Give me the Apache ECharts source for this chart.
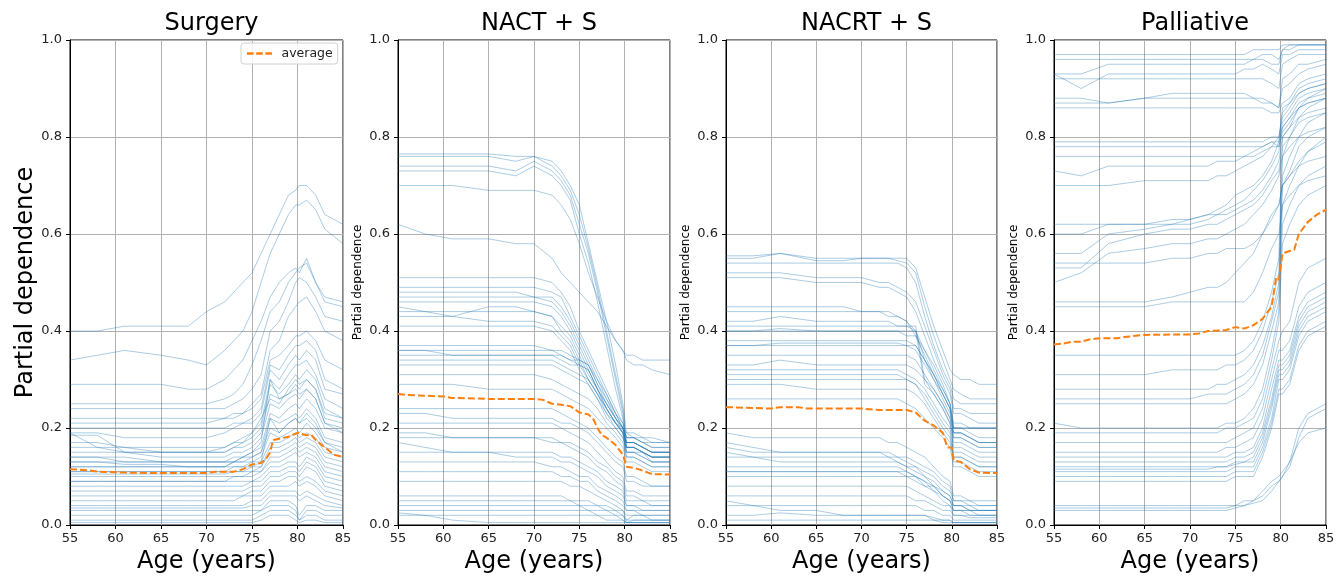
<!DOCTYPE html>
<html><head><meta charset="utf-8">
<script src="https://cdn.jsdelivr.net/npm/echarts@6/dist/echarts.min.js"></script>
<style>html,body{margin:0;padding:0;background:#fff}#c{width:1340px;height:579px}</style>
</head><body><div id="c"></div>
<script>
// Shared age grid for individual (ICE) curves
const AGES = [55,58,61,65,68,70,72,73,74,75,76,77,78,79,79.8,80.2,81,82,83,85];

const SURGERY = [
[.40,.40,.41,.41,.41,.44,.46,.48,.50,.52,.56,.60,.64,.68,.69,.70,.70,.68,.64,.62],
[.34,.35,.36,.35,.34,.33,.36,.38,.40,.44,.50,.56,.60,.64,.66,.66,.67,.65,.61,.58],
[.29,.29,.29,.29,.28,.28,.30,.32,.34,.38,.42,.47,.50,.52,.53,.52,.55,.50,.47,.46],
[.25,.25,.25,.25,.25,.25,.26,.27,.29,.33,.38,.44,.46,.50,.52,.53,.54,.50,.46,.45],
[.24,.24,.24,.24,.24,.24,.24,.25,.26,.28,.31,.40,.42,.46,.50,.51,.50,.47,.43,.42],
[.22,.22,.22,.22,.22,.22,.22,.23,.23,.25,.27,.36,.38,.43,.45,.46,.47,.44,.40,.38],
[.21,.21,.21,.21,.21,.21,.22,.22,.23,.24,.26,.34,.35,.37,.39,.39,.40,.38,.34,.32],
[.20,.20,.20,.20,.20,.20,.20,.21,.21,.22,.24,.33,.32,.35,.37,.37,.38,.36,.30,.28],
[.19,.19,.18,.18,.18,.18,.19,.20,.21,.21,.23,.32,.30,.33,.35,.34,.36,.34,.28,.27],
[.19,.16,.16,.15,.15,.15,.16,.17,.18,.19,.21,.30,.28,.31,.33,.33,.34,.31,.26,.24],
[.185,.185,.15,.15,.15,.15,.15,.16,.17,.19,.22,.26,.25,.28,.30,.29,.30,.28,.23,.22],
[.17,.17,.16,.16,.16,.16,.16,.17,.17,.18,.20,.29,.27,.29,.31,.30,.32,.30,.24,.22],
[.16,.16,.15,.15,.15,.15,.15,.16,.16,.17,.19,.27,.26,.27,.29,.28,.30,.28,.22,.21],
[.15,.15,.15,.14,.14,.14,.14,.15,.15,.16,.18,.25,.24,.26,.27,.26,.28,.26,.21,.20],
[.14,.14,.14,.13,.13,.13,.13,.14,.14,.15,.16,.23,.22,.24,.25,.24,.26,.24,.20,.19],
[.14,.14,.13,.13,.13,.13,.13,.13,.14,.14,.15,.22,.21,.22,.23,.22,.24,.22,.18,.17],
[.13,.13,.125,.125,.12,.12,.12,.13,.14,.15,.17,.30,.26,.27,.28,.27,.28,.26,.21,.19],
[.13,.13,.13,.13,.13,.13,.13,.13,.13,.14,.15,.20,.19,.21,.22,.21,.22,.20,.17,.16],
[.12,.12,.12,.12,.12,.12,.12,.13,.13,.13,.14,.19,.18,.19,.20,.19,.21,.19,.16,.15],
[.12,.12,.12,.12,.12,.12,.12,.12,.12,.13,.13,.17,.17,.18,.19,.18,.19,.18,.15,.14],
[.11,.11,.11,.11,.11,.11,.11,.12,.12,.12,.12,.16,.16,.17,.18,.17,.18,.17,.14,.13],
[.11,.11,.11,.11,.11,.11,.11,.11,.11,.11,.12,.15,.15,.16,.17,.16,.17,.16,.13,.12],
[.105,.105,.105,.105,.105,.105,.105,.11,.11,.12,.13,.22,.19,.21,.22,.21,.23,.21,.17,.15],
[.10,.10,.10,.10,.10,.10,.10,.10,.10,.11,.11,.14,.14,.15,.16,.15,.16,.15,.12,.11],
[.09,.09,.09,.09,.09,.09,.09,.10,.10,.10,.11,.13,.13,.14,.15,.14,.15,.14,.11,.10],
[.09,.09,.09,.09,.09,.09,.09,.09,.09,.09,.10,.12,.12,.13,.13,.12,.14,.13,.10,.09],
[.08,.08,.08,.08,.08,.08,.08,.08,.08,.09,.09,.11,.11,.12,.12,.11,.13,.12,.09,.08],
[.07,.07,.07,.07,.07,.07,.07,.07,.07,.08,.08,.10,.10,.11,.11,.10,.12,.11,.08,.07],
[.06,.06,.06,.06,.06,.06,.06,.06,.06,.07,.07,.09,.09,.10,.10,.09,.10,.09,.07,.06],
[.05,.05,.05,.05,.05,.05,.05,.05,.06,.06,.06,.08,.08,.08,.09,.08,.09,.08,.06,.05],
[.04,.04,.04,.04,.04,.04,.04,.04,.04,.05,.05,.07,.07,.07,.07,.06,.07,.06,.05,.04],
[.035,.035,.035,.035,.035,.035,.035,.035,.035,.04,.04,.06,.06,.06,.06,.05,.06,.05,.04,.035],
[.03,.03,.03,.03,.03,.03,.03,.03,.03,.03,.03,.05,.05,.05,.04,.02,.04,.04,.03,.03],
[.02,.02,.02,.02,.02,.02,.02,.02,.02,.02,.03,.04,.04,.04,.03,.01,.03,.03,.02,.02],
[.01,.01,.01,.01,.01,.01,.01,.01,.01,.01,.02,.03,.03,.03,.02,.01,.02,.02,.01,.01],
[.005,.005,.005,.005,.005,.005,.005,.005,.005,.005,.01,.02,.02,.02,.01,.005,.01,.01,.005,.005]
];

const NACT = [
[.765,.765,.765,.765,.76,.76,.75,.73,.70,.66,.58,.50,.42,.33,.25,.19,.18,.18,.17,.17],
[.76,.76,.76,.76,.75,.76,.74,.72,.69,.64,.57,.49,.40,.31,.24,.17,.17,.16,.15,.15],
[.74,.74,.74,.74,.73,.75,.73,.71,.68,.62,.56,.48,.39,.30,.23,.16,.16,.15,.14,.14],
[.73,.73,.73,.73,.72,.74,.72,.70,.67,.60,.54,.46,.37,.28,.22,.15,.15,.15,.13,.13],
[.70,.70,.70,.69,.69,.69,.68,.66,.63,.58,.52,.47,.42,.38,.36,.34,.33,.33,.32,.31],
[.62,.60,.59,.59,.58,.58,.55,.52,.50,.48,.46,.44,.41,.38,.36,.35,.35,.34,.34,.34],
[.51,.51,.51,.51,.51,.51,.50,.48,.45,.40,.36,.32,.28,.24,.21,.18,.18,.17,.16,.16],
[.49,.49,.49,.49,.49,.49,.48,.47,.43,.39,.35,.31,.27,.23,.20,.17,.17,.16,.15,.15],
[.48,.48,.48,.48,.48,.47,.47,.45,.42,.38,.34,.30,.27,.23,.20,.16,.16,.15,.14,.14],
[.47,.47,.47,.47,.47,.47,.46,.44,.41,.37,.33,.29,.26,.22,.20,.18,.18,.17,.17,.17],
[.46,.46,.46,.46,.46,.46,.45,.43,.40,.36,.32,.28,.25,.22,.19,.15,.15,.14,.13,.13],
[.45,.44,.43,.45,.45,.44,.43,.41,.39,.35,.31,.28,.25,.22,.20,.19,.19,.18,.18,.17],
[.44,.44,.44,.44,.44,.44,.43,.40,.38,.34,.30,.27,.24,.21,.19,.14,.14,.13,.12,.12],
[.43,.43,.43,.42,.42,.42,.41,.39,.37,.33,.30,.27,.24,.21,.19,.17,.17,.16,.15,.15],
[.41,.41,.41,.41,.41,.41,.40,.38,.36,.32,.29,.26,.23,.21,.19,.16,.16,.15,.14,.14],
[.37,.37,.37,.37,.37,.37,.36,.36,.35,.34,.33,.30,.26,.23,.21,.18,.18,.17,.16,.16],
[.36,.36,.36,.36,.36,.36,.36,.35,.34,.34,.33,.29,.25,.22,.20,.17,.17,.16,.15,.15],
[.36,.36,.35,.35,.35,.35,.35,.35,.34,.33,.32,.28,.24,.21,.20,.16,.16,.15,.14,.14],
[.35,.35,.35,.35,.35,.35,.35,.34,.33,.33,.32,.28,.24,.21,.19,.17,.17,.16,.15,.15],
[.34,.34,.34,.34,.34,.34,.34,.33,.32,.31,.30,.27,.23,.20,.18,.15,.15,.14,.13,.13],
[.33,.33,.33,.33,.33,.33,.33,.32,.31,.30,.29,.26,.22,.20,.18,.16,.16,.15,.14,.14],
[.31,.31,.31,.31,.31,.31,.30,.29,.28,.27,.26,.24,.21,.19,.17,.14,.14,.13,.12,.12],
[.29,.29,.29,.28,.28,.28,.28,.27,.26,.25,.24,.22,.20,.18,.16,.13,.13,.12,.11,.11],
[.24,.24,.24,.24,.24,.24,.24,.23,.22,.21,.20,.18,.16,.14,.13,.10,.10,.09,.08,.08],
[.23,.23,.22,.22,.22,.22,.22,.21,.21,.20,.19,.17,.15,.13,.12,.09,.09,.08,.08,.08],
[.21,.21,.21,.21,.21,.21,.21,.20,.19,.18,.17,.15,.13,.11,.10,.07,.07,.06,.06,.06],
[.19,.19,.18,.18,.18,.18,.18,.17,.17,.16,.15,.13,.12,.10,.09,.06,.06,.05,.05,.05],
[.18,.18,.18,.18,.18,.18,.17,.17,.16,.15,.14,.12,.11,.09,.08,.05,.05,.05,.04,.04],
[.17,.16,.15,.15,.15,.15,.15,.14,.14,.13,.12,.11,.09,.08,.07,.04,.04,.04,.04,.04],
[.15,.15,.15,.15,.14,.14,.14,.13,.13,.12,.11,.10,.08,.07,.06,.04,.04,.03,.03,.03],
[.13,.13,.13,.13,.13,.13,.12,.12,.11,.10,.10,.08,.07,.06,.05,.03,.03,.03,.03,.03],
[.11,.11,.11,.11,.11,.11,.11,.10,.10,.09,.09,.07,.06,.05,.04,.03,.03,.02,.02,.02],
[.09,.09,.09,.09,.09,.09,.09,.09,.08,.08,.07,.06,.05,.04,.03,.02,.02,.02,.02,.02],
[.06,.06,.06,.06,.06,.06,.06,.06,.05,.05,.05,.04,.04,.03,.03,.01,.02,.02,.01,.01],
[.05,.05,.05,.05,.05,.05,.05,.05,.05,.04,.04,.04,.03,.03,.02,.01,.01,.01,.01,.01],
[.04,.04,.04,.04,.04,.04,.04,.04,.04,.04,.03,.03,.03,.02,.02,.005,.01,.01,.01,.01],
[.03,.03,.03,.03,.03,.03,.03,.03,.03,.03,.03,.02,.02,.02,.01,.005,.005,.005,.005,.005],
[.02,.02,.02,.02,.02,.02,.02,.02,.02,.02,.02,.02,.01,.01,.01,.005,.005,.005,.005,.005],
[.025,.02,.01,.005,.005,.005,.005,.005,.005,.005,.005,.005,.005,.005,.005,.005,.005,.005,.005,.005]
];

const NACRT = [
[.555,.555,.56,.55,.55,.55,.55,.55,.55,.55,.53,.47,.41,.36,.32,.31,.30,.30,.29,.29],
[.55,.55,.56,.545,.545,.55,.55,.55,.545,.54,.52,.45,.39,.34,.30,.28,.27,.26,.26,.26],
[.54,.54,.54,.54,.54,.54,.54,.54,.54,.53,.50,.43,.37,.32,.29,.26,.25,.25,.25,.25],
[.52,.52,.52,.51,.51,.51,.50,.50,.49,.48,.46,.41,.36,.31,.28,.24,.24,.23,.23,.23],
[.51,.51,.51,.50,.50,.50,.49,.49,.48,.47,.44,.39,.34,.30,.27,.23,.23,.22,.21,.21],
[.45,.45,.45,.45,.45,.44,.44,.44,.43,.42,.40,.36,.32,.28,.25,.21,.21,.20,.20,.20],
[.44,.44,.44,.44,.44,.44,.44,.43,.43,.42,.39,.35,.31,.27,.24,.20,.20,.19,.18,.18],
[.42,.42,.43,.42,.42,.42,.42,.42,.41,.41,.40,.34,.30,.26,.23,.19,.19,.18,.17,.17],
[.41,.41,.41,.41,.41,.41,.41,.41,.41,.41,.41,.30,.28,.25,.22,.19,.19,.18,.17,.17],
[.40,.40,.405,.40,.40,.40,.40,.40,.40,.40,.40,.29,.27,.24,.21,.18,.18,.17,.16,.16],
[.40,.40,.40,.40,.40,.40,.40,.40,.40,.39,.39,.36,.33,.29,.25,.20,.20,.20,.20,.20],
[.38,.38,.38,.38,.38,.38,.38,.38,.38,.38,.37,.34,.31,.27,.24,.19,.19,.18,.17,.17],
[.37,.37,.375,.375,.375,.375,.375,.375,.375,.37,.37,.34,.31,.28,.25,.20,.20,.20,.20,.20],
[.37,.37,.37,.37,.37,.37,.37,.37,.37,.37,.36,.33,.30,.27,.24,.18,.18,.17,.16,.16],
[.35,.35,.35,.35,.35,.35,.35,.35,.35,.35,.34,.31,.28,.25,.22,.17,.17,.16,.15,.15],
[.33,.33,.34,.33,.33,.33,.33,.33,.33,.33,.32,.30,.27,.24,.21,.16,.16,.15,.14,.14],
[.32,.32,.32,.32,.32,.32,.32,.32,.32,.31,.30,.28,.25,.22,.20,.15,.15,.14,.13,.13],
[.31,.31,.31,.31,.31,.31,.31,.31,.31,.30,.29,.27,.24,.21,.19,.14,.14,.13,.12,.12],
[.30,.30,.30,.30,.30,.30,.30,.30,.30,.30,.29,.26,.23,.20,.18,.14,.14,.13,.12,.12],
[.29,.29,.29,.28,.28,.28,.28,.28,.28,.28,.27,.25,.22,.19,.17,.13,.13,.12,.11,.11],
[.26,.26,.26,.26,.26,.26,.26,.26,.26,.25,.24,.22,.20,.18,.16,.12,.12,.11,.10,.10],
[.19,.18,.18,.18,.18,.18,.18,.17,.17,.16,.15,.14,.12,.10,.09,.06,.06,.05,.05,.05],
[.17,.16,.15,.15,.15,.15,.15,.15,.14,.14,.13,.12,.11,.09,.08,.05,.05,.05,.04,.04],
[.16,.15,.15,.15,.15,.15,.15,.14,.14,.13,.12,.11,.10,.08,.07,.05,.05,.04,.04,.04],
[.15,.14,.14,.14,.14,.14,.14,.14,.13,.12,.12,.10,.09,.07,.06,.04,.04,.04,.03,.03],
[.14,.14,.13,.13,.13,.13,.13,.13,.13,.12,.11,.10,.08,.07,.06,.04,.04,.03,.03,.03],
[.12,.12,.12,.12,.12,.12,.12,.12,.12,.11,.10,.09,.08,.06,.05,.03,.03,.03,.03,.03],
[.11,.11,.11,.11,.11,.11,.11,.11,.11,.11,.10,.09,.07,.06,.05,.03,.03,.03,.02,.02],
[.11,.11,.11,.11,.11,.11,.11,.11,.11,.10,.10,.08,.08,.06,.05,.04,.04,.03,.03,.03],
[.10,.10,.10,.10,.10,.10,.10,.10,.10,.10,.09,.08,.07,.05,.04,.03,.03,.02,.02,.02],
[.08,.08,.08,.08,.08,.08,.08,.08,.08,.08,.07,.06,.05,.04,.04,.02,.02,.02,.02,.02],
[.06,.06,.06,.06,.06,.06,.06,.06,.06,.06,.05,.05,.04,.03,.03,.02,.02,.015,.015,.015],
[.05,.04,.03,.03,.02,.02,.02,.02,.02,.02,.02,.02,.01,.01,.01,.005,.005,.005,.005,.005],
[.04,.04,.04,.04,.04,.04,.04,.04,.04,.04,.04,.03,.03,.02,.02,.01,.01,.01,.01,.01],
[.02,.02,.025,.02,.02,.02,.02,.02,.02,.02,.02,.02,.015,.01,.01,.005,.005,.005,.005,.005],
[.01,.01,.01,.01,.01,.01,.01,.01,.01,.01,.01,.01,.01,.005,.005,.005,.005,.005,.005,.005]
];

const PALLIATIVE = [
[.97,.97,.97,.97,.97,.97,.97,.97,.97,.97,.97,.98,.98,.98,.98,.99,.99,.99,.99,.99],
[.96,.96,.96,.96,.96,.96,.96,.96,.96,.96,.96,.96,.97,.97,.96,.98,.99,.99,.99,.99],
[.93,.93,.95,.95,.95,.95,.95,.95,.95,.95,.95,.96,.96,.95,.95,.98,.98,.99,.99,.99],
[.93,.90,.93,.93,.93,.93,.93,.93,.93,.93,.94,.94,.95,.94,.93,.97,.97,.98,.98,.98],
[.92,.92,.92,.92,.92,.92,.92,.92,.92,.92,.92,.92,.92,.91,.90,.95,.96,.97,.97,.97],
[.88,.88,.87,.88,.89,.89,.89,.89,.89,.89,.89,.88,.88,.87,.86,.92,.93,.95,.95,.96],
[.87,.87,.87,.88,.88,.88,.88,.88,.88,.88,.88,.88,.87,.87,.86,.90,.91,.93,.94,.95],
[.86,.86,.86,.86,.86,.86,.86,.86,.86,.86,.86,.86,.86,.85,.85,.87,.88,.91,.92,.93],
[.79,.79,.79,.79,.79,.79,.79,.79,.79,.79,.79,.79,.79,.80,.80,.84,.86,.89,.90,.91],
[.78,.78,.78,.78,.78,.78,.78,.78,.78,.78,.78,.78,.78,.79,.78,.83,.85,.88,.89,.90],
[.76,.76,.76,.76,.76,.76,.76,.76,.76,.76,.76,.77,.78,.79,.79,.82,.84,.87,.88,.89],
[.73,.72,.74,.74,.74,.74,.74,.75,.75,.75,.76,.76,.77,.78,.78,.81,.83,.86,.87,.88],
[.70,.70,.70,.71,.71,.71,.71,.72,.72,.73,.74,.75,.76,.78,.80,.85,.87,.90,.91,.92],
[.62,.62,.62,.62,.62,.63,.64,.65,.66,.68,.69,.70,.72,.75,.79,.86,.87,.89,.90,.91],
[.60,.60,.62,.62,.63,.63,.64,.64,.65,.66,.67,.69,.71,.74,.77,.82,.84,.86,.87,.88],
[.56,.56,.60,.61,.62,.62,.63,.64,.64,.65,.66,.67,.69,.72,.75,.80,.82,.84,.85,.86],
[.53,.53,.58,.60,.61,.61,.62,.62,.63,.64,.65,.66,.68,.71,.73,.78,.80,.83,.84,.85],
[.50,.52,.56,.57,.58,.58,.59,.59,.60,.61,.62,.64,.66,.69,.72,.76,.78,.80,.81,.82],
[.54,.54,.54,.54,.55,.55,.56,.56,.57,.57,.57,.58,.60,.63,.66,.70,.72,.75,.77,.80],
[.46,.46,.46,.46,.47,.48,.49,.49,.50,.52,.54,.56,.60,.64,.66,.70,.72,.74,.75,.76],
[.45,.45,.45,.45,.46,.46,.46,.46,.46,.46,.46,.48,.52,.57,.60,.66,.68,.70,.71,.72],
[.35,.35,.35,.35,.35,.35,.35,.35,.35,.35,.36,.38,.42,.48,.55,.80,.82,.86,.88,.90],
[.31,.31,.31,.31,.32,.32,.32,.32,.33,.33,.34,.36,.40,.46,.52,.76,.80,.84,.86,.88],
[.28,.28,.28,.28,.28,.28,.28,.29,.29,.30,.31,.33,.37,.43,.50,.72,.76,.80,.83,.85],
[.26,.26,.26,.26,.26,.26,.27,.27,.27,.28,.29,.31,.35,.42,.48,.70,.73,.78,.80,.82],
[.25,.25,.25,.25,.25,.25,.25,.25,.25,.26,.27,.29,.33,.40,.46,.66,.70,.74,.77,.79],
[.21,.20,.20,.20,.20,.20,.20,.20,.21,.21,.22,.24,.28,.36,.44,.62,.66,.70,.72,.74],
[.19,.19,.19,.19,.19,.19,.19,.19,.20,.20,.21,.22,.26,.34,.42,.58,.62,.66,.68,.70],
[.17,.17,.17,.17,.17,.17,.17,.17,.17,.18,.19,.20,.24,.32,.38,.40,.42,.50,.53,.55],
[.15,.15,.15,.15,.15,.15,.15,.15,.16,.16,.17,.18,.22,.30,.36,.36,.38,.45,.48,.50],
[.14,.14,.14,.14,.14,.14,.14,.14,.14,.15,.15,.16,.20,.28,.34,.34,.36,.43,.46,.48],
[.13,.13,.13,.13,.13,.13,.13,.13,.13,.14,.14,.15,.19,.26,.33,.33,.35,.42,.45,.47],
[.12,.12,.12,.12,.12,.12,.12,.12,.12,.13,.13,.14,.18,.25,.32,.32,.34,.41,.44,.46],
[.115,.115,.115,.115,.115,.115,.115,.12,.12,.125,.13,.13,.17,.24,.31,.31,.33,.40,.43,.45],
[.11,.11,.11,.11,.11,.11,.11,.11,.11,.12,.12,.12,.16,.22,.30,.30,.32,.39,.42,.44],
[.10,.10,.10,.10,.10,.10,.10,.10,.10,.11,.11,.11,.15,.21,.28,.28,.30,.37,.40,.42],
[.09,.09,.09,.09,.09,.09,.09,.09,.09,.10,.10,.10,.14,.20,.27,.27,.29,.36,.39,.41],
[.04,.04,.04,.04,.04,.04,.04,.04,.04,.04,.05,.05,.07,.09,.10,.11,.13,.17,.19,.20],
[.035,.035,.035,.035,.035,.035,.035,.035,.035,.04,.04,.05,.06,.08,.09,.10,.13,.20,.23,.25],
[.03,.03,.03,.03,.03,.03,.03,.03,.03,.035,.04,.045,.05,.07,.09,.10,.12,.18,.22,.24]
];

// Average (partial dependence) curves
const AVG_SURGERY_AGES = [55,57,58,61,65,70,71,73,74,75,76,76.5,77,77.3,78,79,80,81,81.5,82,83,84,85];
const AVG_SURGERY = [.115,.113,.11,.108,.107,.107,.11,.11,.115,.125,.128,.135,.15,.175,.178,.182,.19,.185,.186,.175,.16,.145,.14];
const AVG_NACT_AGES = [55,56,60,61,65,70,71,72,73,74,75,76,76.5,77,77.5,78,79,79.8,80.2,81,82,83,85];
const AVG_NACT = [.27,.268,.265,.262,.26,.26,.258,.25,.248,.245,.232,.228,.22,.2,.185,.18,.165,.145,.12,.118,.112,.105,.104];
const AVG_NACRT_AGES = [55,60,61,63,64,70,72,75,76,77,78,79,79.5,80,80.2,81,82,83,85];
const AVG_NACRT = [.243,.24,.243,.243,.24,.24,.237,.237,.232,.215,.205,.19,.16,.16,.133,.13,.115,.108,.107];
const AVG_PALL_AGES = [55,56,57,58,59,60,62,63,64,65,70,71,72,74,75,76,77,78,79,79.5,79.8,80.2,81,81.5,82,83,84,85];
const AVG_PALL = [.372,.374,.378,.378,.383,.385,.385,.388,.39,.392,.393,.395,.4,.402,.408,.405,.412,.425,.45,.51,.505,.56,.565,.568,.6,.625,.64,.65];

const TITLES = ['Surgery','NACT + S','NACRT + S','Palliative'];
const X_MIN = 55, X_MAX = 85, X_STEP = 5;
const Y_MIN = 0, Y_MAX = 1, Y_STEP = 0.2;

const ICE = [SURGERY, NACT, NACRT, PALLIATIVE];
const AVG = [[AVG_SURGERY_AGES, AVG_SURGERY],[AVG_NACT_AGES, AVG_NACT],[AVG_NACRT_AGES, AVG_NACRT],[AVG_PALL_AGES, AVG_PALL]];

const GRIDS = [
  {left:70, top:40, width:273, height:486},
  {left:398, top:40, width:272, height:486},
  {left:726, top:40, width:271, height:486},
  {left:1054, top:40, width:272, height:486}
];
const FONT = 'DejaVu Sans';

const chart = echarts.init(document.getElementById('c'), null, {renderer:'canvas'});
const series = [];
ICE.forEach((lines, p) => {
  lines.forEach((vals, k) => {
    series.push({
      type:'line', xAxisIndex:p, yAxisIndex:p, name:'ice'+p+'_'+k,
      data: AGES.map((a,i)=>[a, vals[i]]),
      symbol:'none', silent:true, z:2,
      lineStyle:{color:'rgba(31,119,180,0.42)', width:0.9}
    });
  });
  series.push({
    type:'line', xAxisIndex:p, yAxisIndex:p, name: p===0 ? 'average' : 'average'+p,
    data: AVG[p][0].map((a,i)=>[a, AVG[p][1][i]]),
    symbol:'none', silent:true, z:5,
    itemStyle:{color:'#ff7f0e'},
    lineStyle:{color:'#ff7f0e', width:2, type:[7,3]}
  });
});

const option = {
  animation:false,
  backgroundColor:'#fff',
  title: TITLES.map((t,i)=>({
    text:t, left: GRIDS[i].left + GRIDS[i].width/2, top:7, textAlign:'center',
    textStyle:{fontFamily:FONT, fontSize:24, fontWeight:'normal', color:'#000'}
  })),
  legend:{
    data:[{name:'average', icon:'path://M0,0h8v3h-8z M11,0h8v3h-8z M22,0h8v3h-8z'}],
    left:241, top:43, padding:[4,5,4,6], itemGap:6,
    itemWidth:26, itemHeight:2.5,
    borderColor:'#d0d0d0', borderWidth:1, borderRadius:3,
    backgroundColor:'rgba(255,255,255,0.85)',
    textStyle:{fontFamily:FONT, fontSize:12.5, color:'#222', padding:[0,0,0,4]}
  },
  grid: GRIDS.map(g=>Object.assign({show:true, borderColor:'#000', borderWidth:1, backgroundColor:'transparent'}, g)),
  xAxis: GRIDS.map((g,i)=>({
    type:'value', gridIndex:i, min:X_MIN, max:X_MAX, interval:X_STEP,
    name:'Age (years)', nameLocation:'middle', nameGap:25,
    nameTextStyle:{fontFamily:FONT, fontSize:24, color:'#000'},
    axisLine:{show:true, lineStyle:{color:'#000', width:1}},
    axisTick:{show:true, length:4, lineStyle:{color:'#000'}},
    axisLabel:{fontFamily:FONT, fontSize:13, color:'#222', margin:7},
    splitLine:{show:true, lineStyle:{color:'#b0b0b0', width:1}}
  })),
  yAxis: GRIDS.map((g,i)=>({
    type:'value', gridIndex:i, min:Y_MIN, max:Y_MAX, interval:Y_STEP,
    name:'Partial dependence', nameLocation:'middle', nameGap: i===0 ? 28 : 34,
    nameTextStyle:{fontFamily:FONT, fontSize: i===0 ? 24 : 12, color:'#000'},
    axisLine:{show:true, lineStyle:{color:'#000', width:1}},
    axisTick:{show:true, length:4, lineStyle:{color:'#000'}},
    axisLabel:{fontFamily:FONT, fontSize:13, color:'#222', margin:8, formatter:v=>v.toFixed(1)},
    splitLine:{show:true, lineStyle:{color:'#b0b0b0', width:1}}
  })),
  series: series
};
chart.setOption(option);
</script>
</body></html>
